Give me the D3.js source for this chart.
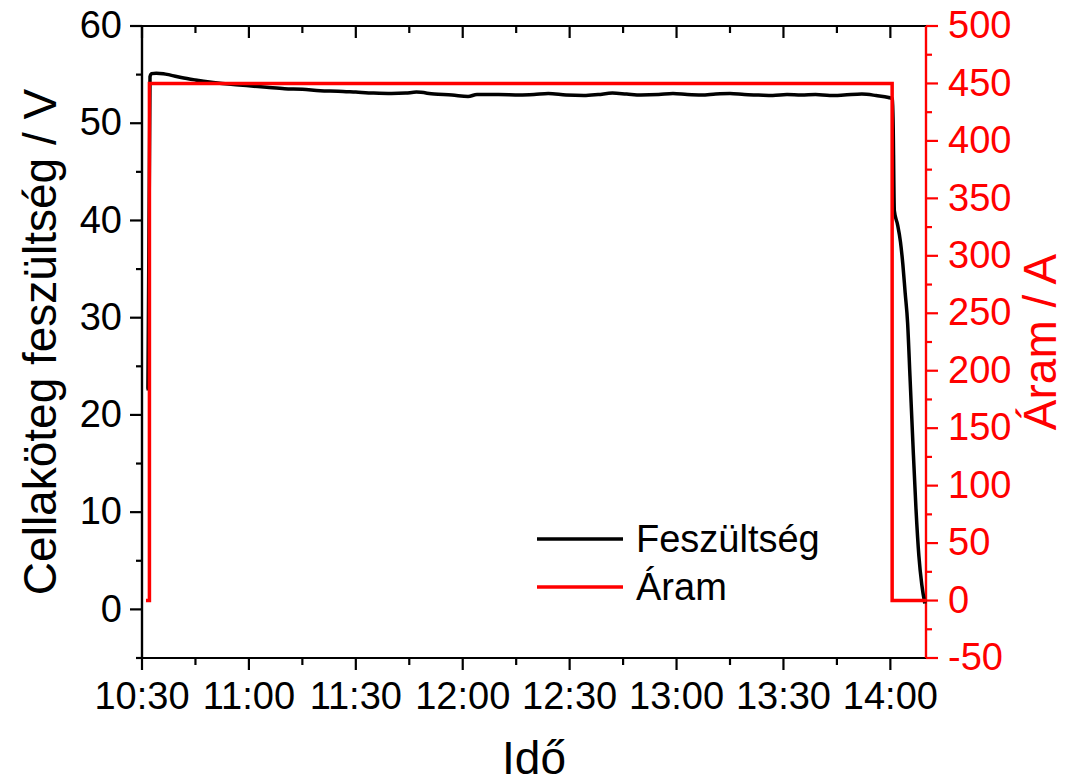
<!DOCTYPE html>
<html lang="hu">
<head>
    <meta charset="UTF-8">
    <title>Feszültség és áram</title>
    <style>
        body { margin: 0; background: #fff; }
        text { font-family: "Liberation Sans", Arial, sans-serif; }
        .tick text { font-size: 38px; }
    </style>
</head>
<body>
    <script src="https://d3js.org/d3.v7.min.js"></script>
    <script>
        // time stamps and readings
        const voltTimes = ["10:31:15", "10:31:40", "10:32:15", "10:32:40", "10:34:00", "10:36:00", "10:38:00", "10:41:00",
            "10:45:00", "10:50:00", "10:55:00", "11:00:00", "11:05:00", "11:10:00", "11:15:00", "11:20:00", "11:25:00",
            "11:30:00", "11:35:00", "11:40:00", "11:44:00", "11:47:00", "11:52:00", "11:57:00", "12:01:30", "12:04:00",
            "12:10:00", "12:16:00", "12:20:00", "12:24:00", "12:29:00", "12:34:00", "12:38:00", "12:42:00", "12:46:00",
            "12:50:00", "12:55:00", "12:59:00", "13:03:00", "13:07:00", "13:11:00", "13:15:00", "13:19:00", "13:23:00",
            "13:27:00", "13:31:00", "13:35:00", "13:39:00", "13:43:00", "13:47:00", "13:52:00", "13:56:00", "13:59:30",
            "14:00:40", "14:01:07", "14:02:00", "14:02:50", "14:03:30", "14:04:10", "14:04:50", "14:05:30", "14:06:20",
            "14:07:10", "14:08:00", "14:08:50", "14:09:40"];
        const voltValues = [22.7, 22.7, 54.8, 55.1, 55.15, 55.1, 54.95, 54.7,
            54.45, 54.2, 54.0, 53.85, 53.7, 53.55, 53.5, 53.35, 53.3,
            53.2, 53.1, 53.05, 53.1, 53.2, 53.0, 52.9, 52.75, 52.95,
            52.95, 52.9, 52.95, 53.05, 52.9, 52.85, 52.95, 53.1, 53.0,
            52.9, 52.95, 53.05, 52.95, 52.9, 53.0, 53.05, 52.95, 52.9,
            52.85, 52.95, 52.9, 52.95, 52.85, 52.9, 53.0, 52.85, 52.65,
            52.5, 41.0, 39.6, 37.8, 35.5, 32.5, 29.5, 24, 17,
            10.5, 5.5, 2.5, 0.6];

        const ampTimes = ["10:31:07", "10:32:05", "10:32:05", "14:00:30", "14:00:30", "14:10:00"];
        const ampValues = [0, 0, 450, 450, 0, 0];

        const xDomain = ["10:30:00", "14:10:00"];
        const xMajor = ["10:30", "11:00", "11:30", "12:00", "12:30", "13:00", "13:30", "14:00"];
        const xMinor = ["10:45", "11:15", "11:45", "12:15", "12:45", "13:15", "13:45"];
        const voltMajor = [0, 10, 20, 30, 40, 50, 60];
        const voltMinor = [-5, 5, 15, 25, 35, 45, 55];
        const ampMajor = [-50, 0, 50, 100, 150, 200, 250, 300, 350, 400, 450, 500];
        const ampMinor = [-25, 25, 75, 125, 175, 225, 275, 325, 375, 425, 475];

        const seriesNames = ["Feszültség", "Áram"];

        const W = 1066, H = 784;
        const margin = { top: 26, left: 142 };
        const width = 784, height = 632;

        const parseT = d3.timeParse("%H:%M:%S");
        const parseHM = d3.timeParse("%H:%M");
        const plain = d => String(d); // keeps "-50" with a hyphen like the original

        const svg = d3.select("body").append("svg")
            .attr("width", W)
            .attr("height", H);
        const g = svg.append("g")
            .attr("transform", `translate(${margin.left},${margin.top})`);

        const x = d3.scaleTime()
            .domain(xDomain.map(parseT))
            .range([0, width]);
        const yV = d3.scaleLinear().domain([-5, 60]).range([height, 0]);
        const yA = d3.scaleLinear().domain([-50, 500]).range([height, 0]);

        function styleAxis(sel, color) {
            sel.select(".domain").attr("stroke", color).attr("stroke-width", 2.2);
            sel.selectAll(".tick line").attr("stroke", color).attr("stroke-width", 2.2);
            sel.selectAll(".tick text").attr("fill", color);
        }

        // bottom axis
        const xMaj = xMajor.map(parseHM), xMin = xMinor.map(parseHM);
        g.append("g").attr("transform", `translate(0,${height})`)
            .call(d3.axisBottom(x).tickValues(xMin).tickFormat("").tickSize(7).tickSizeOuter(0).offset(0))
            .call(s => styleAxis(s, "#000"));
        g.append("g").attr("transform", `translate(0,${height})`)
            .call(d3.axisBottom(x).tickValues(xMaj).tickFormat(d3.timeFormat("%H:%M"))
                .tickSize(12).tickPadding(12).tickSizeOuter(0).offset(0))
            .call(s => styleAxis(s, "#000"));

        // top axis, ticks inward
        g.append("g")
            .call(d3.axisBottom(x).tickValues(xMin).tickFormat("").tickSize(7).tickSizeOuter(0).offset(0))
            .call(s => styleAxis(s, "#000"));
        g.append("g")
            .call(d3.axisBottom(x).tickValues(xMaj).tickFormat("").tickSize(12).tickSizeOuter(0).offset(0))
            .call(s => styleAxis(s, "#000"));

        // left axis
        g.append("g")
            .call(d3.axisLeft(yV).tickValues(voltMinor).tickFormat("").tickSize(6).tickSizeOuter(0).offset(0))
            .call(s => styleAxis(s, "#000"));
        g.append("g")
            .call(d3.axisLeft(yV).tickValues(voltMajor).tickFormat(plain).tickSize(12).tickPadding(8).tickSizeOuter(0).offset(0))
            .call(s => styleAxis(s, "#000"));

        // right axis
        g.append("g").attr("transform", `translate(${width},0)`)
            .call(d3.axisRight(yA).tickValues(ampMinor).tickFormat("").tickSize(6).tickSizeOuter(0).offset(0))
            .call(s => styleAxis(s, "#ff0000"));
        g.append("g").attr("transform", `translate(${width},0)`)
            .call(d3.axisRight(yA).tickValues(ampMajor).tickFormat(plain).tickSize(12).tickPadding(10).tickSizeOuter(0).offset(0))
            .call(s => styleAxis(s, "#ff0000"));

        // series
        const voltData = voltTimes.map((t, i) => ({ t: parseT(t), v: voltValues[i] }));
        const ampData = ampTimes.map((t, i) => ({ t: parseT(t), v: ampValues[i] }));

        g.append("path")
            .datum(voltData)
            .attr("fill", "none")
            .attr("stroke", "#000")
            .attr("stroke-width", 3.5)
            .attr("stroke-linejoin", "round")
            .attr("d", d3.line().x(d => x(d.t)).y(d => yV(d.v)).curve(d3.curveMonotoneX));

        g.append("path")
            .datum(ampData)
            .attr("fill", "none")
            .attr("stroke", "#ff0000")
            .attr("stroke-width", 3.5)
            .attr("d", d3.line().x(d => x(d.t)).y(d => yA(d.v)));

        // axis titles
        svg.append("text")
            .attr("transform", `translate(56,${margin.top + height / 2}) rotate(-90)`)
            .attr("text-anchor", "middle")
            .attr("font-size", 46)
            .attr("fill", "#000")
            .text("Cellaköteg feszültség / V");

        svg.append("text")
            .attr("transform", `translate(1056,${margin.top + height / 2}) rotate(-90)`)
            .attr("text-anchor", "middle")
            .attr("font-size", 46)
            .attr("fill", "#ff0000")
            .text("Áram / A");

        svg.append("text")
            .attr("x", margin.left + width / 2)
            .attr("y", 774)
            .attr("text-anchor", "middle")
            .attr("font-size", 46)
            .attr("fill", "#000")
            .text("Idő");

        // legend
        const legend = svg.append("g").attr("transform", "translate(537,539)");
        const colors = ["#000", "#ff0000"];
        seriesNames.forEach((name, i) => {
            const row = legend.append("g").attr("transform", `translate(0,${i * 48})`);
            row.append("line")
                .attr("x1", 0).attr("x2", 86)
                .attr("stroke", colors[i])
                .attr("stroke-width", 3.5);
            row.append("text")
                .attr("x", 99)
                .attr("y", 13)
                .attr("font-size", 38)
                .attr("fill", "#000")
                .text(name);
        });
    </script>
</body>
</html>
